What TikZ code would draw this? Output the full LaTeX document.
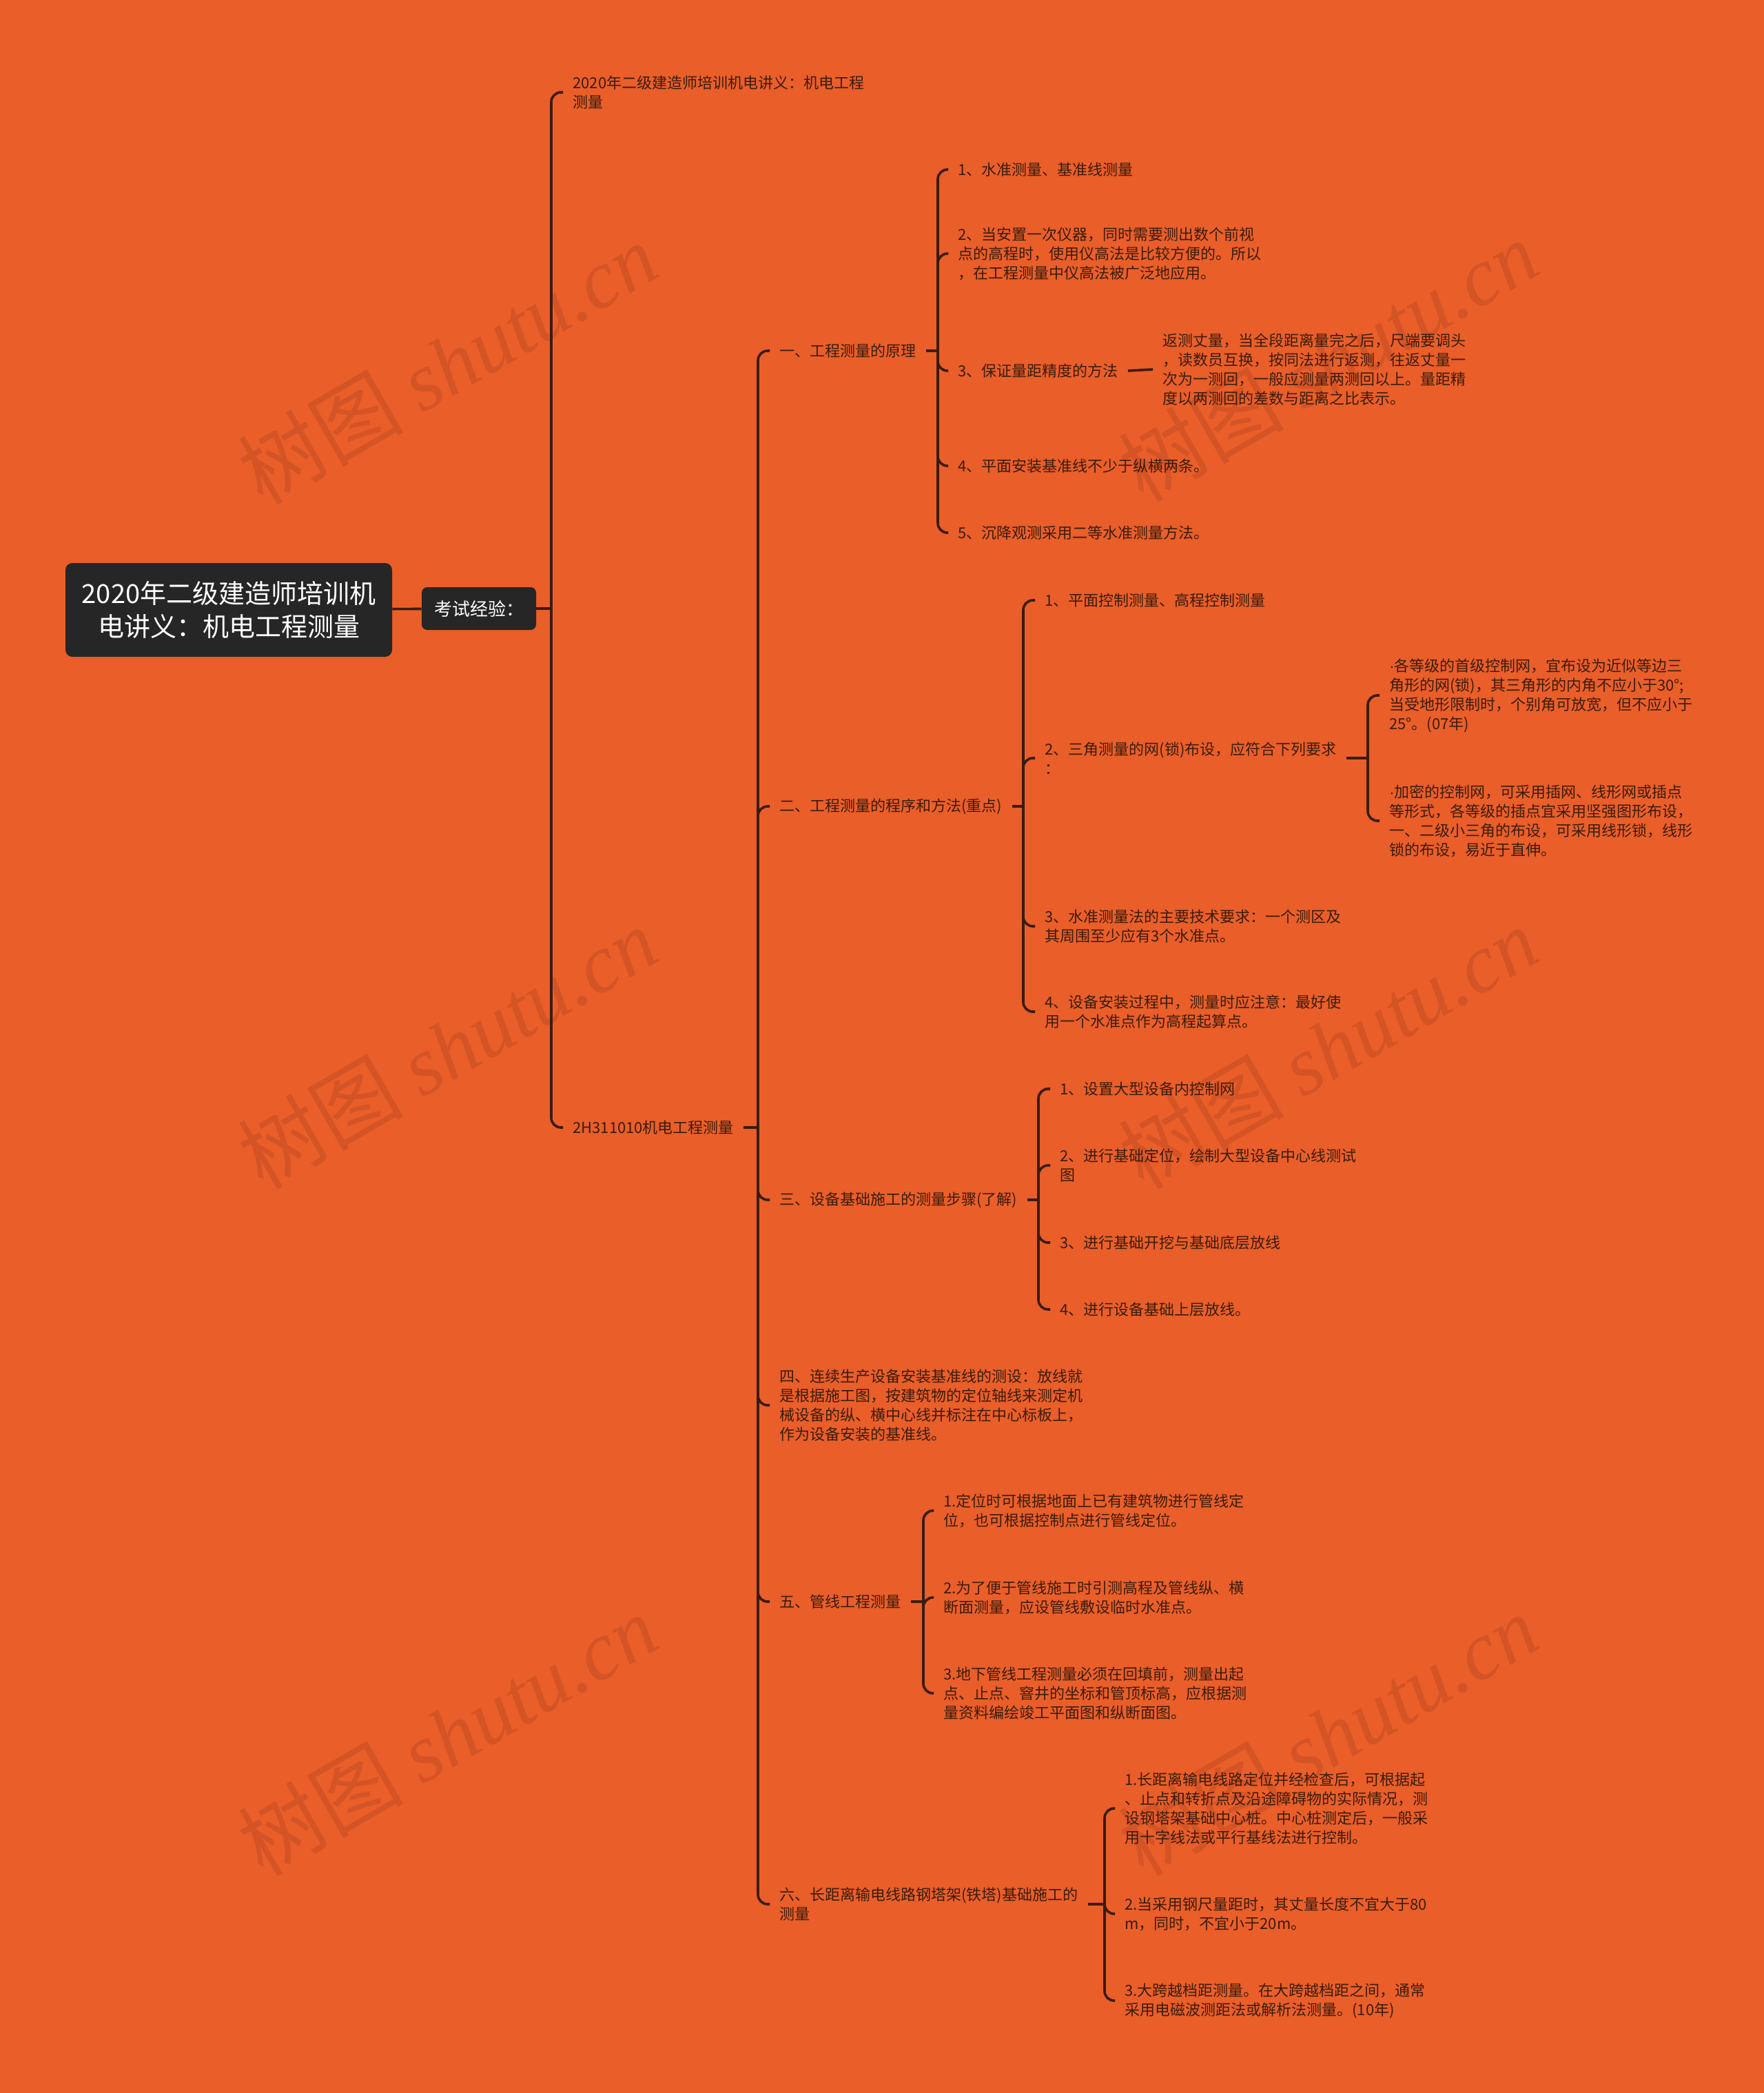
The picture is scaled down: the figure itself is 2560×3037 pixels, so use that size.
\documentclass[tikz,border=0pt]{standalone}
\usepackage{fontspec}
\setmainfont{Noto Sans CJK SC}
\newfontfamily\wmserif{Liberation Serif}
\newfontfamily\dotfont{Liberation Sans}
\usetikzlibrary{positioning}
\definecolor{bgorange}{RGB}{233,94,41}
\definecolor{inkbrown}{RGB}{58,28,12}
\definecolor{rootgray}{RGB}{38,38,38}
\definecolor{wmorange}{RGB}{212,84,38}

\begin{document}
\begin{tikzpicture}[
  x=0.5pt, y=-0.5pt,
  leaf/.style={anchor=west, inner xsep=7pt, inner ysep=2pt, align=left, text=inkbrown, font=\fontsize{11}{14}\selectfont},
  link/.style={draw=inkbrown, line width=1.8pt, rounded corners=7pt},
  rootbox/.style={fill=rootgray, rounded corners=5pt, text=white, align=center, font=\fontsize{19}{24}\selectfont, minimum width=237pt, minimum height=68pt},
  tagbox/.style={fill=rootgray, rounded corners=4pt, text=white, font=\fontsize{13}{16}\selectfont, minimum width=83pt, minimum height=31pt},
  wmtext/.style={text=wmorange, font=\fontsize{60}{60}\selectfont, rotate=30}
]
  % background and page size
  \fill[bgorange] (0,0) rectangle (2560,3037);
  \useasboundingbox (0,0) rectangle (2560,3037);

  % watermarks
  \foreach \wx/\wy [count=\i] in {649/527, 1927/523, 649/1520, 1927/1520, 649/2517, 1927/2517}
    \node[wmtext] (wm\i) at (\wx,\wy) {树图 {\wmserif\itshape shutu.cn}};

  % root and first level
  \node[rootbox] (root) at (332,885) {2020年二级建造师培训机\\电讲义：机电工程测量};
  \node[tagbox] (tag) at (695,883) {考试经验：};
  \node[leaf] (intro) at (817,134) {2020年二级建造师培训机电讲义：机电工程\\测量};
  \node[leaf] (sec) at (817,1636) {2H311010机电工程测量};

  % sections
  \node[leaf] (p1) at (1117,509) {一、工程测量的原理};
  \node[leaf] (p2) at (1117,1170) {二、工程测量的程序和方法(重点)};
  \node[leaf] (p3) at (1117,1741) {三、设备基础施工的测量步骤(了解)};
  \node[leaf] (p4) at (1117,2039) {四、连续生产设备安装基准线的测设：放线就\\是根据施工图，按建筑物的定位轴线来测定机\\械设备的纵、横中心线并标注在中心标板上，\\作为设备安装的基准线。};
  \node[leaf] (p5) at (1117,2324) {五、管线工程测量};
  \node[leaf] (p6) at (1117,2763) {六、长距离输电线路钢塔架(铁塔)基础施工的\\测量};

  % section one
  \node[leaf] (p1a) at (1376,246) {1、水准测量、基准线测量};
  \node[leaf] (p1b) at (1376,368) {2、当安置一次仪器，同时需要测出数个前视\\点的高程时，使用仪高法是比较方便的。所以\\，在工程测量中仪高法被广泛地应用。};
  \node[leaf] (p1c) at (1376,538) {3、保证量距精度的方法};
  \node[leaf] (p1n) at (1673,536) {返测丈量，当全段距离量完之后，尺端要调头\\，读数员互换，按同法进行返测，往返丈量一\\次为一测回，一般应测量两测回以上。量距精\\度以两测回的差数与距离之比表示。};
  \node[leaf] (p1d) at (1376,676) {4、平面安装基准线不少于纵横两条。};
  \node[leaf] (p1e) at (1376,773) {5、沉降观测采用二等水准测量方法。};

  % section two
  \node[leaf] (p2a) at (1502,871) {1、平面控制测量、高程控制测量};
  \node[leaf] (p2b) at (1502,1100) {2、三角测量的网(锁)布设，应符合下列要求\\：};
  \node[leaf] (p2x) at (2002,1009) {{\dotfont ·}各等级的首级控制网，宜布设为近似等边三\\角形的网(锁)，其三角形的内角不应小于30°;\\当受地形限制时，个别角可放宽，但不应小于\\25°。(07年)};
  \node[leaf] (p2y) at (2002,1191) {{\dotfont ·}加密的控制网，可采用插网、线形网或插点\\等形式，各等级的插点宜采用坚强图形布设，\\一、二级小三角的布设，可采用线形锁，线形\\锁的布设，易近于直伸。};
  \node[leaf] (p2c) at (1502,1344) {3、水准测量法的主要技术要求：一个测区及\\其周围至少应有3个水准点。};
  \node[leaf] (p2d) at (1502,1468) {4、设备安装过程中，测量时应注意：最好使\\用一个水准点作为高程起算点。};

  % section three
  \node[leaf] (p3a) at (1524,1580) {1、设置大型设备内控制网};
  \node[leaf] (p3b) at (1524,1691) {2、进行基础定位，绘制大型设备中心线测试\\图};
  \node[leaf] (p3c) at (1524,1803) {3、进行基础开挖与基础底层放线};
  \node[leaf] (p3d) at (1524,1900) {4、进行设备基础上层放线。};

  % section five
  \node[leaf] (p5a) at (1355,2192) {1.定位时可根据地面上已有建筑物进行管线定\\位，也可根据控制点进行管线定位。};
  \node[leaf] (p5b) at (1355,2318) {2.为了便于管线施工时引测高程及管线纵、横\\断面测量，应设管线敷设临时水准点。};
  \node[leaf] (p5c) at (1355,2457) {3.地下管线工程测量必须在回填前，测量出起\\点、止点、窨井的坐标和管顶标高，应根据测\\量资料编绘竣工平面图和纵断面图。};

  % section six
  \node[leaf] (p6a) at (1618,2624) {1.长距离输电线路定位并经检查后，可根据起\\、止点和转折点及沿途障碍物的实际情况，测\\设钢塔架基础中心桩。中心桩测定后，一般采\\用十字线法或平行基线法进行控制。};
  \node[leaf] (p6b) at (1618,2777) {2.当采用钢尺量距时，其丈量长度不宜大于80\\m，同时，不宜小于20m。};
  \node[leaf] (p6c) at (1618,2903) {3.大跨越档距测量。在大跨越档距之间，通常\\采用电磁波测距法或解析法测量。(10年)};

  % junctions
  \coordinate (j0) at (tag.east -| 800,0);
  \coordinate (j1) at (sec.east -| 1100,0);
  \coordinate (j2) at (p1.east -| 1361,0);
  \coordinate (j3) at (p2.east -| 1485,0);
  \coordinate (j4) at (p2b.east -| 1985,0);
  \coordinate (j5) at (p3.east -| 1507,0);
  \coordinate (j6) at (p5.east -| 1340,0);
  \coordinate (j7) at (p6.east -| 1603,0);

  % connectors
  \draw[link] (root) -- (tag);
  \draw[link] (tag.east) -- (j0);
  \foreach \c in {intro, sec} \draw[link] (j0) |- (\c.west);
  \draw[link] (sec.east) -- (j1);
  \foreach \c in {p1, p2, p3, p4, p5, p6} \draw[link] (j1) |- (\c.west);
  \draw[link] (p1.east) -- (j2);
  \foreach \c in {p1a, p1b, p1c, p1d, p1e} \draw[link] (j2) |- (\c.west);
  \draw[link] (p1c.east) -- (p1n.west);
  \draw[link] (p2.east) -- (j3);
  \foreach \c in {p2a, p2b, p2c, p2d} \draw[link] (j3) |- (\c.west);
  \draw[link] (p2b.east) -- (j4);
  \foreach \c in {p2x, p2y} \draw[link] (j4) |- (\c.west);
  \draw[link] (p3.east) -- (j5);
  \foreach \c in {p3a, p3b, p3c, p3d} \draw[link] (j5) |- (\c.west);
  \draw[link] (p5.east) -- (j6);
  \foreach \c in {p5a, p5b, p5c} \draw[link] (j6) |- (\c.west);
  \draw[link] (p6.east) -- (j7);
  \foreach \c in {p6a, p6b, p6c} \draw[link] (j7) |- (\c.west);
\end{tikzpicture}
\end{document}
